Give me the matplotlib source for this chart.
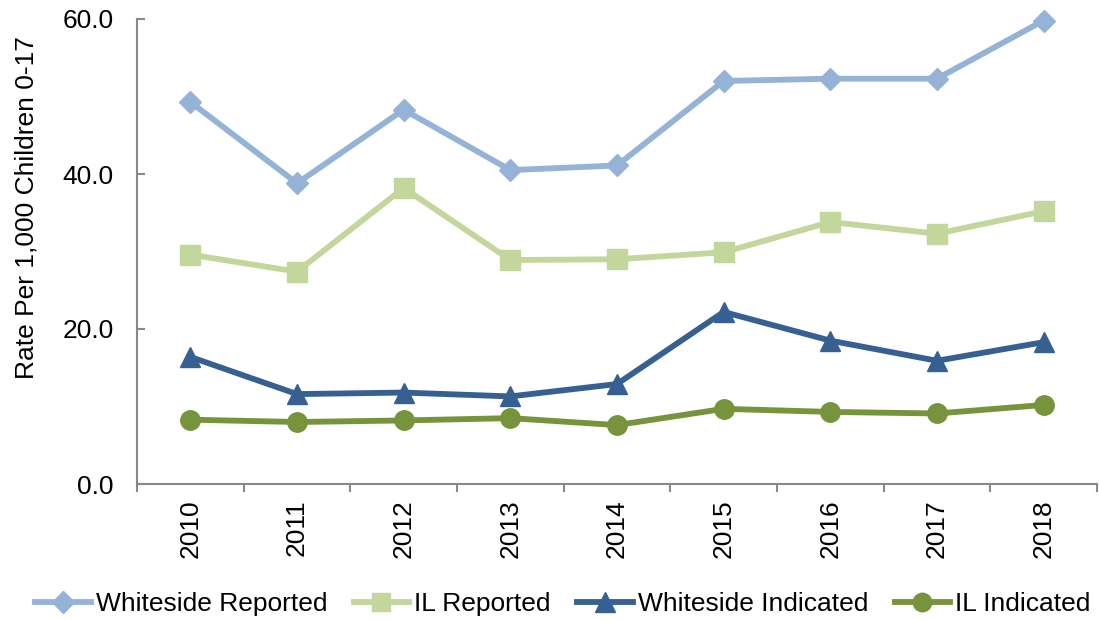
import matplotlib
matplotlib.use("Agg")
import matplotlib.pyplot as plt
from matplotlib.ticker import FixedLocator, FormatStrFormatter

years = ["2010", "2011", "2012", "2013", "2014", "2015", "2016", "2017", "2018"]
whiteside_reported = [49.3, 38.8, 48.3, 40.5, 41.1, 52.0, 52.3, 52.3, 59.8]
il_reported = [29.6, 27.4, 38.2, 28.9, 29.0, 29.9, 33.8, 32.3, 35.2]
whiteside_indicated = [16.4, 11.6, 11.8, 11.3, 12.9, 22.2, 18.5, 15.9, 18.3]
il_indicated = [8.3, 8.0, 8.2, 8.5, 7.6, 9.7, 9.3, 9.1, 10.2]

plt.rcParams["font.family"] = ["Liberation Sans", "DejaVu Sans"]

fig = plt.figure(figsize=(10.99, 6.2), dpi=100)
ax = fig.add_axes([137 / 1099, 1 - 484 / 620, (1097 - 137) / 1099, (484 - 19) / 620])

x = [i + 0.5 for i in range(len(years))]
series = [
    ("Whiteside Reported", whiteside_reported, "#95B3D7", "D", 11.5),
    ("IL Reported", il_reported, "#C3D69B", "s", 14),
    ("Whiteside Indicated", whiteside_indicated, "#376092", "^", 14.5),
    ("IL Indicated", il_indicated, "#77933C", "o", 14),
]
for name, vals, col, mk, ms in series:
    ax.plot(x, vals, color=col, lw=4.2, marker=mk, markersize=ms,
            markerfacecolor=col, markeredgecolor=col, label=name,
            solid_joinstyle="miter", clip_on=False)

ax.set_xlim(0, len(years))
ax.set_ylim(0, 60)
ax.set_yticks([0, 20, 40, 60])
ax.yaxis.set_major_formatter(FormatStrFormatter("%.1f"))
ax.set_xticks(x)
ax.set_xticklabels(years, rotation=90)
ax.xaxis.set_minor_locator(FixedLocator(range(len(years) + 1)))
ax.tick_params(axis="x", which="major", length=0, pad=11, labelsize=19)
ax.tick_params(axis="x", which="minor", direction="out", length=6, width=1.5, color="#898989")
ax.tick_params(axis="y", direction="in", length=6, width=1.5, color="#898989",
               labelsize=19, pad=17)

for side in ("top", "right"):
    ax.spines[side].set_visible(False)
for side in ("left", "bottom"):
    ax.spines[side].set_color("#898989")
    ax.spines[side].set_linewidth(1.5)

ax.set_ylabel("Rate Per 1,000 Children 0-17", fontsize=19)
ax.yaxis.set_label_coords(-0.103, 0.594)

leg = fig.legend(loc="center", bbox_to_anchor=(563 / 1099, 1 - 604 / 620), ncol=4,
                 frameon=False, fontsize=19, handlelength=2.1,
                 handletextpad=0.2, columnspacing=1.0, markerscale=0.95)

fig.savefig("out.png", dpi=100)
